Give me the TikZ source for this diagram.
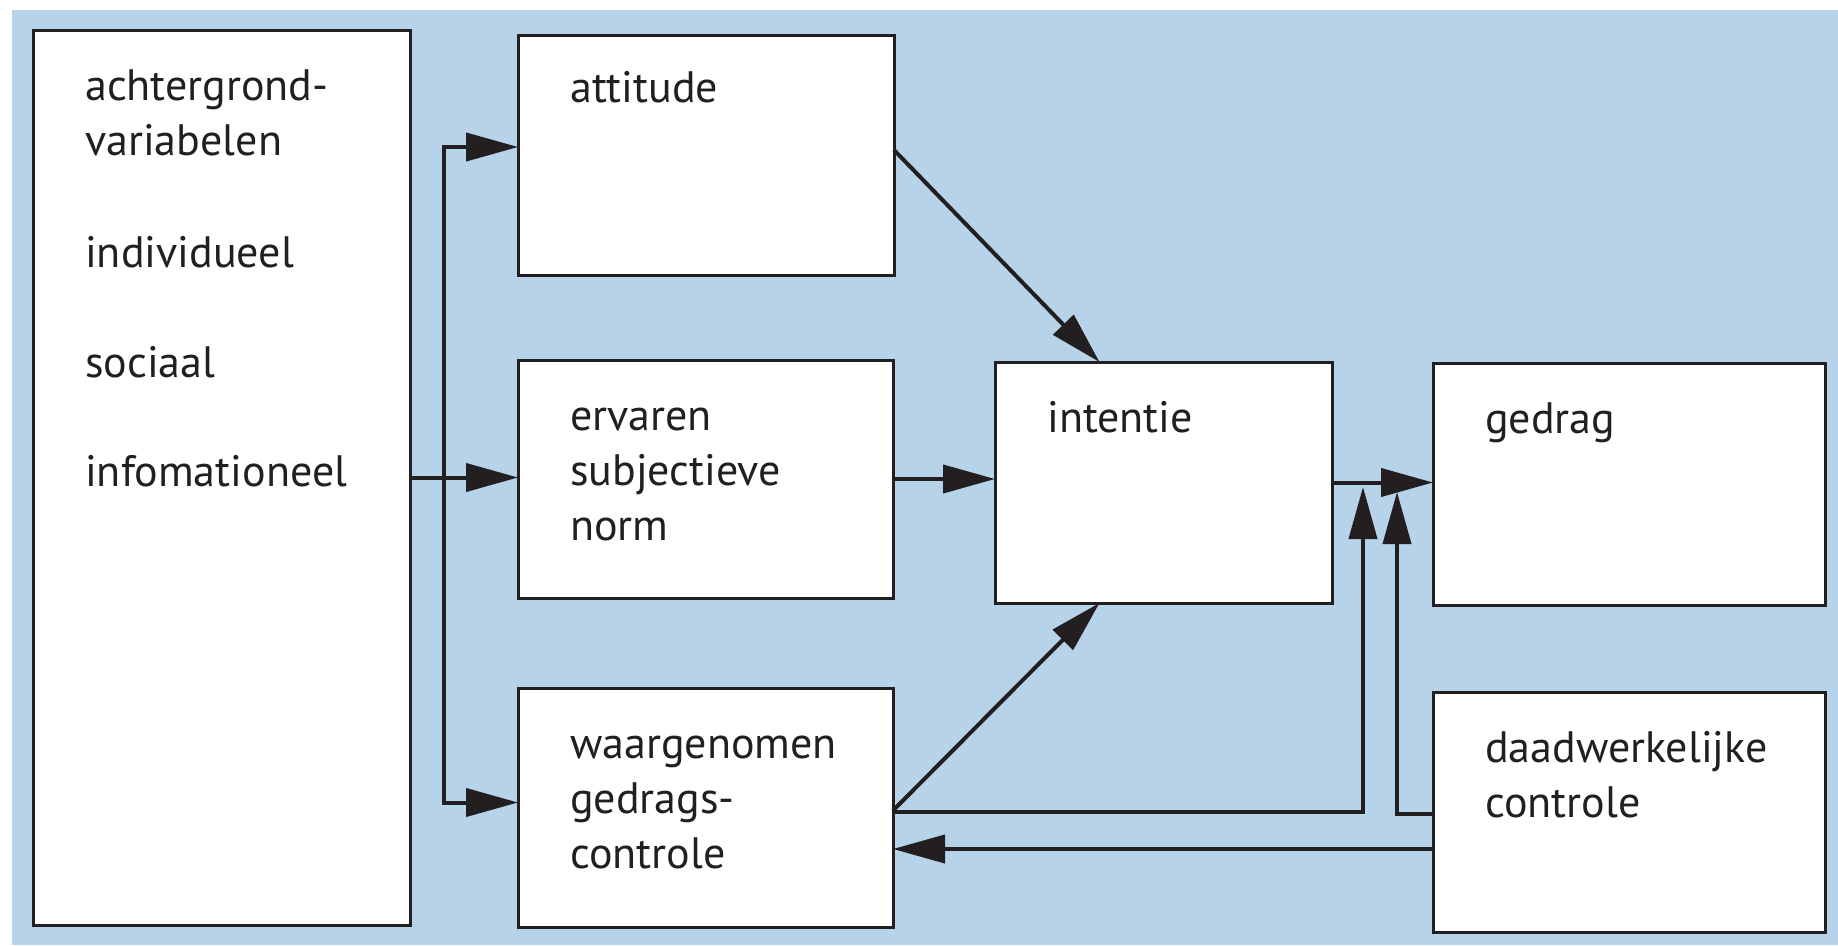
\documentclass[tikz,border=0pt]{standalone}
\usepackage{fontspec}
\setmainfont{PT Sans}
\usetikzlibrary{arrows.meta,calc}
\definecolor{bgblue}{RGB}{183,211,234}
\definecolor{ink}{RGB}{35,31,32}
\tikzset{
  box/.style={draw=ink, fill=white, line width=3pt, inner sep=0pt, outer sep=0pt},
  lbl/.style={anchor=base west, inner sep=0pt, text width=340pt, align=left, text=ink,
              font=\fontsize{44}{55}\selectfont},
  conn/.style={draw=ink, line width=4pt},
  arr/.style={conn, -{Triangle[length=52pt, width=28pt]}},
}
\begin{document}
\begin{tikzpicture}[x=1pt, y=-1pt]
\useasboundingbox (0,0) rectangle (1838,945);
\fill[white] (0,0) rectangle (1838,945);
\fill[bgblue] (12,10) rectangle (1838,945);

% boxes
\node[box, minimum width=377pt, minimum height=895pt] (left) at (221.5,477.5) {};
\node[box, minimum width=376pt, minimum height=240pt] (att) at (706,155) {};
\node[box, minimum width=375pt, minimum height=238pt] (erv) at (705.5,479) {};
\node[box, minimum width=375pt, minimum height=239pt] (waar) at (705.5,807.5) {};
\node[box, minimum width=337pt, minimum height=241pt] (int) at (1163.5,482.5) {};
\node[box, minimum width=392pt, minimum height=242pt] (ged) at (1629,484) {};
\node[box, minimum width=392pt, minimum height=240pt] (daad) at (1629,812) {};

% labels
\node[lbl] (tl1) at ($(left.north west)+(52,70)$) {achtergrond-\\variabelen};
\node[lbl] (tl2) at ($(left.north west)+(52,237)$) {individueel};
\node[lbl] (tl3) at ($(left.north west)+(52,347)$) {sociaal};
\node[lbl] (tl4) at ($(left.north west)+(52,456)$) {infomationeel};
\node[lbl] (tatt) at ($(att.north west)+(52,67)$) {attitude};
\node[lbl] (terv) at ($(erv.north west)+(52,70)$) {ervaren\\subjectieve\\norm};
\node[lbl] (twaar) at ($(waar.north west)+(52,70)$) {waargenomen\\gedrags-\\controle};
\node[lbl] (tint) at ($(int.north west)+(52,70)$) {intentie};
\node[lbl] (tged) at ($(ged.north west)+(52,70)$) {gedrag};
\node[lbl] (tdaad) at ($(daad.north west)+(52,70)$) {daadwerkelijke\\controle};

% connectors
\coordinate (trunk) at ($(left.east)+(34,0)$);
\draw[arr] (left.east) -- (left.east -| erv.west);
\draw[arr] (trunk) |- ($(att.west)+(0,-8)$);
\draw[arr] (trunk) |- ($(waar.west)+(0,-5)$);
\draw[arr] (erv.east) -- (erv.east -| int.west);
\draw[arr] (int.east) -- (int.east -| ged.west);
\draw[arr] ($(att.east)+(0,-5)$) -- ($(int.north west)!0.31!(int.north east)$);
\draw[arr] ($(waar.east)+(0,3)$) -- ($(int.south west)!0.31!(int.south east)$);
\coordinate (u1) at (1363,487);
\coordinate (u2) at (1397,492);
\draw[arr] ($(waar.east)+(0,4.5)$) -| (u1);
\draw[arr] ($(daad.west)+(0,2)$) -| (u2);
\draw[arr] ($(daad.west)+(0,37)$) -- ($(waar.east)+(0,41.5)$);
\end{tikzpicture}
\end{document}
